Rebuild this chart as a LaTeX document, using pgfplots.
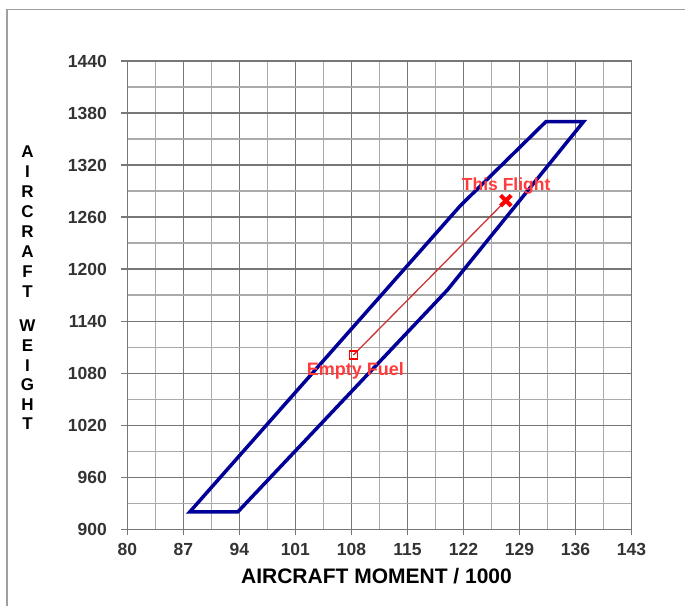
\documentclass[border=0pt]{standalone}
\usepackage{pgfplots}
\pgfplotsset{compat=1.18}
\usepackage{fontspec}
\setmainfont{Liberation Sans}
\definecolor{env}{HTML}{000099}
\definecolor{gmaj}{HTML}{777777}
\definecolor{gmin}{HTML}{AAAAAA}
\definecolor{ticktxt}{HTML}{333333}
\definecolor{lbl}{HTML}{FF3B3B}
\definecolor{redline}{HTML}{CC3333}
\begin{document}
\begin{tikzpicture}[x=1pt,y=1pt]
\begin{axis}[
  at={(127.3pt,75.7pt)}, anchor=south west,
  scale only axis, width=504.2pt, height=468.3pt,
  xmin=80, xmax=143, ymin=900, ymax=1440,
  xtick={80,87,...,143}, ytick={900,960,...,1440},
  minor x tick num=1, minor y tick num=1,
  grid=both,
  major grid style={color=gmaj, line width=1.3pt},
  minor grid style={color=gmin, line width=1.3pt},
  axis line style={color=gmaj, line width=1.3pt},
  tick style={color=gmaj, line width=1.3pt},
  major tick length=6pt, minor tick length=0pt,
  tick align=outside, tick pos=left,
  ticklabel style={font=\fontsize{17.5}{17.5}\selectfont\bfseries, text=ticktxt, text height=12.6pt, text depth=0pt},
  yticklabel style={xshift=-11pt},
  xticklabel style={yshift=-4pt},
  /pgf/number format/assume math mode=true,
  /pgf/number format/1000 sep={},
  clip=false,
]
\addplot[env, line width=3.5pt] coordinates {
  (87.8,920) (93.8,920) (120.0,1176) (137.0,1370) (132.3,1370) (121.6,1273) (87.8,920)
} -- cycle;
\addplot[redline, line width=1.3pt] coordinates {(108.25,1101) (127.3,1279)};
\addplot[only marks, mark=square, mark size=4pt, red, mark options={line width=1.6pt}] coordinates {(108.25,1101)};
\addplot[only marks, mark=x, mark size=7.5pt, red, mark options={line width=4pt}] coordinates {(127.3,1279)};
\node[font=\fontsize{18}{18}\selectfont\bfseries, text=lbl] at (axis cs:108.5,1082.6) {Empty Fuel};
\node[font=\fontsize{17.5}{17.5}\selectfont\bfseries, text=lbl] at (axis cs:127.34,1296.1) {This Flight};
\end{axis}
\node[font=\fontsize{21}{21}\selectfont\bfseries] at (376.5,29.2) {AIRCRAFT MOMENT / 1000};
\node[align=center, font=\fontsize{17}{20}\selectfont\bfseries] at (27.5,383) {A\\I\\R\\C\\R\\A\\F\\T};
\node[align=center, font=\fontsize{17}{19.6}\selectfont\bfseries] at (27.5,230) {W\\E\\I\\G\\H\\T};
\draw[color=gray!75, line width=1.5pt] (7,-20) -- (7,595.5) -- (720,595.5);
\pgfresetboundingbox
\useasboundingbox (0,0) rectangle (685,605);
\end{tikzpicture}
\end{document}
